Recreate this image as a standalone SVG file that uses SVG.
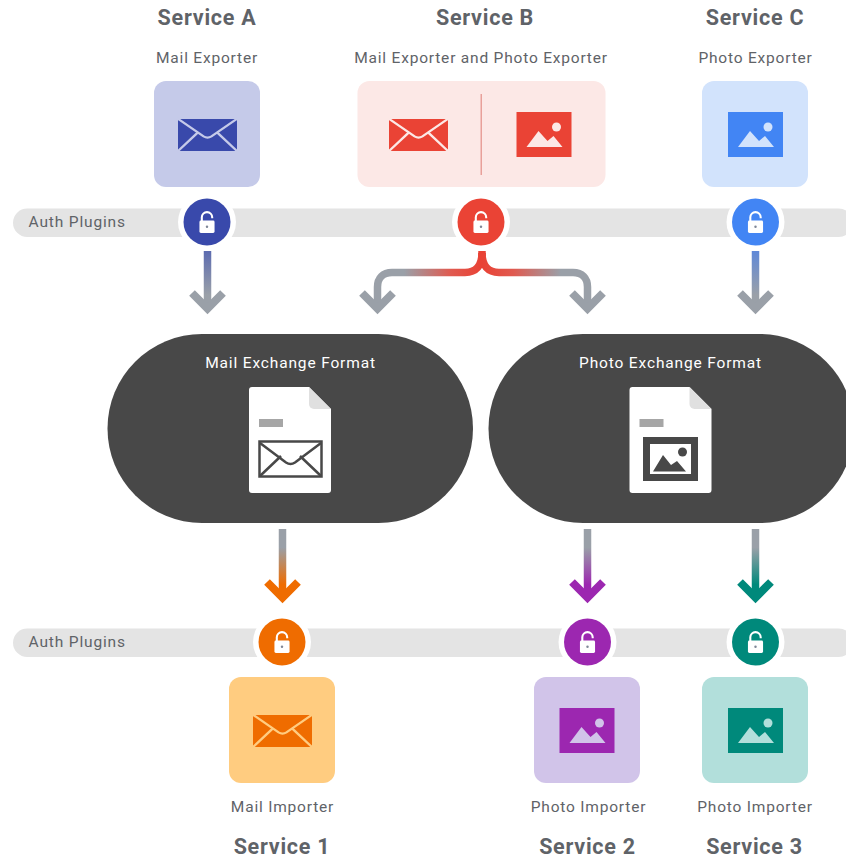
<svg xmlns="http://www.w3.org/2000/svg" width="846" height="859" viewBox="0 0 846 859">
<style>
text{font-family:Roboto,"Liberation Sans",sans-serif;text-anchor:middle}
.t{font-size:21.5px;font-weight:700;fill:#5f6368;letter-spacing:.75px}
.s{font-size:15.5px;fill:#5f6368;letter-spacing:.8px}
.w{font-size:15.5px;fill:#fff;letter-spacing:.85px}
.a{font-size:15.5px;fill:#5f6368;letter-spacing:.85px;text-anchor:start}
.bar{fill:#e4e4e4}
.ring{fill:#fff}
.ln{fill:none;stroke-width:7.5}
</style>
<defs>
<symbol id="mail" viewBox="0 0 60 34" preserveAspectRatio="none" overflow="visible">
<rect x="0" y="0" width="60" height="34" fill="currentColor"/>
<path d="M-1 -1 L26 18.500 Q30 21 34 18.500 L61 -1 M-1 35 L20 14.500 M61 35 L40 14.500" fill="none" stroke="var(--k)" stroke-width="2.400"/>
</symbol>
<symbol id="photo" viewBox="0 0 55 45" overflow="visible">
<rect width="55" height="45" fill="currentColor"/>
<circle cx="40" cy="15" r="4.500" fill="var(--k)"/>
<path d="M10 35 L22 19 L31 29 L37 24 L46 35Z" fill="var(--k)"/>
</symbol>
<symbol id="lock" viewBox="0 0 18 24" overflow="visible">
<path d="M3.500 11V6.500A5.500 5.500 0 0 1 14.500 6.500V7.500" fill="none" stroke="#fff" stroke-width="2.200"/>
<rect x="1" y="10" width="16" height="13" rx="1.500" fill="#fff"/>
<circle cx="9" cy="16.500" r="1.300" fill="#7f8797"/>
</symbol>
<linearGradient id="gA" gradientUnits="userSpaceOnUse" x1="0" y1="251" x2="0" y2="300"><stop offset="0" stop-color="#5c6bb0"/><stop offset=".9" stop-color="#9aa0a8"/></linearGradient>
<linearGradient id="gC" gradientUnits="userSpaceOnUse" x1="0" y1="251" x2="0" y2="300"><stop offset="0" stop-color="#5f88d8"/><stop offset=".9" stop-color="#9aa0a8"/></linearGradient>
<linearGradient id="gL" gradientUnits="userSpaceOnUse" x1="482" y1="0" x2="378" y2="0"><stop offset="0" stop-color="#e94235"/><stop offset=".3" stop-color="#e05a50"/><stop offset=".75" stop-color="#9aa0a8"/></linearGradient>
<linearGradient id="gR" gradientUnits="userSpaceOnUse" x1="482" y1="0" x2="587" y2="0"><stop offset="0" stop-color="#e94235"/><stop offset=".3" stop-color="#e05a50"/><stop offset=".75" stop-color="#9aa0a8"/></linearGradient>
<linearGradient id="g1" gradientUnits="userSpaceOnUse" x1="0" y1="529" x2="0" y2="603"><stop offset="0" stop-color="#9aa0a8"/><stop offset=".25" stop-color="#9aa0a8"/><stop offset=".75" stop-color="#ef6c00"/></linearGradient>
<linearGradient id="g2" gradientUnits="userSpaceOnUse" x1="0" y1="529" x2="0" y2="603"><stop offset="0" stop-color="#9aa0a8"/><stop offset=".25" stop-color="#9aa0a8"/><stop offset=".75" stop-color="#9c27b0"/></linearGradient>
<linearGradient id="g3" gradientUnits="userSpaceOnUse" x1="0" y1="529" x2="0" y2="603"><stop offset="0" stop-color="#9aa0a8"/><stop offset=".25" stop-color="#9aa0a8"/><stop offset=".75" stop-color="#00897b"/></linearGradient>
</defs>

<g id="auth-top"><rect class="bar" x="13" y="208.500" width="840" height="28.500" rx="14.250"/><text class="a" x="28.500" y="227">Auth Plugins</text></g>
<g id="auth-bottom"><rect class="bar" x="13" y="628.500" width="840" height="28.500" rx="14.250"/><text class="a" x="28.500" y="647">Auth Plugins</text></g>

<g id="connectors">
<path class="ln" stroke="url(#gA)" d="M207.500 251V308"/>
<path d="M192 293L207.500 308.500L223 293" fill="none" stroke="#9aa0a8" stroke-width="8"/>
<path class="ln" stroke="url(#gC)" d="M755.500 251V308"/>
<path d="M740 293L755.500 308.500L771 293" fill="none" stroke="#9aa0a8" stroke-width="8"/>
<path class="ln" stroke="#e94235" d="M482 251V256"/>
<path class="ln" stroke="url(#gL)" d="M482 253C482 266 476 272.500 465 272.500H392C383 272.500 377.500 278 377.500 287V308"/>
<path class="ln" stroke="url(#gR)" d="M482 253C482 266 488 272.500 499 272.500H573C582 272.500 587.500 278 587.500 287V308"/>
<path d="M362 293L377.500 308.500L393 293" fill="none" stroke="#9aa0a8" stroke-width="8"/>
<path d="M572 293L587.500 308.500L603 293" fill="none" stroke="#9aa0a8" stroke-width="8"/>
<path class="ln" stroke="url(#g1)" d="M282.500 529V597"/>
<path d="M267 582L282.500 597.500L298 582" fill="none" stroke="#ef6c00" stroke-width="8"/>
<path class="ln" stroke="url(#g2)" d="M587.500 529V597"/>
<path d="M572 582L587.500 597.500L603 582" fill="none" stroke="#9c27b0" stroke-width="8"/>
<path class="ln" stroke="url(#g3)" d="M755.500 529V597"/>
<path d="M740 582L755.500 597.500L771 582" fill="none" stroke="#00897b" stroke-width="8"/>
</g>

<g id="service-a">
<text class="t" x="207" y="25">Service A</text><text class="s" x="207" y="63">Mail Exporter</text>
<rect x="154" y="81" width="106" height="106" rx="12" fill="#c5cae9"/>
<use href="#mail" x="178" y="119" width="59" height="32" style="color:#3949ab;--k:#c5cae9"/>
</g>
<g id="service-b">
<text class="t" x="485" y="25">Service B</text><text class="s" x="481" y="63">Mail Exporter and Photo Exporter</text>
<rect x="357.500" y="81" width="248" height="106" rx="12" fill="#fce8e6"/>
<rect x="480.500" y="94" width="1.500" height="81" fill="#e8a09a"/>
<use href="#mail" x="389" y="119" width="59" height="32" style="color:#ea4335;--k:#fce8e6"/>
<use href="#photo" x="516.500" y="112" width="55" height="45" style="color:#ea4335;--k:#fce8e6"/>
</g>
<g id="service-c">
<text class="t" x="755" y="25">Service C</text><text class="s" x="755.500" y="63">Photo Exporter</text>
<rect x="702" y="81" width="106" height="106" rx="12" fill="#d2e3fc"/>
<use href="#photo" x="728" y="112" width="55" height="45" style="color:#4285f4;--k:#d2e3fc"/>
</g>

<g id="lock-a"><circle class="ring" cx="207" cy="222" r="29"/><circle cx="207" cy="222" r="23.500" fill="#3949ab"/><use href="#lock" x="198.500" y="211" width="17" height="23"/></g>
<g id="lock-b"><circle class="ring" cx="481" cy="222" r="29"/><circle cx="481" cy="222" r="23.500" fill="#ea4335"/><use href="#lock" x="472.500" y="211" width="17" height="23"/></g>
<g id="lock-c"><circle class="ring" cx="755.500" cy="222" r="29"/><circle cx="755.500" cy="222" r="23.500" fill="#4285f4"/><use href="#lock" x="747" y="211" width="17" height="23"/></g>

<g id="mail-format">
<rect x="107.500" y="334" width="365.500" height="189" rx="94.500" fill="#484848"/>
<text class="w" x="290.500" y="368">Mail Exchange Format</text>
<path d="M252 387H309L331 409V490a3 3 0 0 1-3 3H252a3 3 0 0 1-3-3V390a3 3 0 0 1 3-3Z" fill="#fff"/>
<path d="M309 387L331 409H314a5 5 0 0 1-5-5Z" fill="#e0e0e0"/>
<rect x="259" y="419" width="24" height="8" fill="#a6a6a6"/>
<rect x="259.500" y="441.500" width="62" height="35" fill="none" stroke="#484848" stroke-width="2.500"/>
<path d="M260 443L286 462.500Q290.500 465.500 295 462.500L321 443M260 476L281 456M321 476L300 456" fill="none" stroke="#484848" stroke-width="2.500"/>
</g>
<g id="photo-format">
<rect x="488.500" y="334" width="365.500" height="189" rx="94.500" fill="#484848"/>
<text class="w" x="670.500" y="368">Photo Exchange Format</text>
<path d="M632.500 387H689.500L711.500 409V490a3 3 0 0 1-3 3H632.500a3 3 0 0 1-3-3V390a3 3 0 0 1 3-3Z" fill="#fff"/>
<path d="M689.500 387L711.500 409H694.500a5 5 0 0 1-5-5Z" fill="#e0e0e0"/>
<rect x="639.500" y="419" width="24" height="8" fill="#a6a6a6"/>
<rect x="643" y="437" width="55" height="44" fill="#484848"/>
<rect x="650" y="444" width="41" height="30" fill="#fff"/>
<circle cx="682.500" cy="452" r="4.500" fill="#484848"/>
<path d="M653 471.500L663 455L671 465L677 461L686 471.500Z" fill="#484848"/>
</g>

<g id="lock-1"><circle class="ring" cx="282" cy="642" r="29"/><circle cx="282" cy="642" r="23.500" fill="#ef6c00"/><use href="#lock" x="273.500" y="631" width="17" height="23"/></g>
<g id="lock-2"><circle class="ring" cx="587.500" cy="642" r="29"/><circle cx="587.500" cy="642" r="23.500" fill="#9c27b0"/><use href="#lock" x="579" y="631" width="17" height="23"/></g>
<g id="lock-3"><circle class="ring" cx="755.500" cy="642" r="29"/><circle cx="755.500" cy="642" r="23.500" fill="#00897b"/><use href="#lock" x="747" y="631" width="17" height="23"/></g>

<g id="service-1">
<rect x="229" y="677" width="106" height="106" rx="12" fill="#ffcc80"/>
<use href="#mail" x="253" y="715" width="59" height="32" style="color:#ef6c00;--k:#ffcc80"/>
<text class="s" x="282.500" y="812">Mail Importer</text><text class="t" x="282" y="854">Service 1</text>
</g>
<g id="service-2">
<rect x="534" y="677" width="106" height="106" rx="12" fill="#d1c4e9"/>
<use href="#photo" x="559.500" y="708" width="55" height="45" style="color:#9c27b0;--k:#d1c4e9"/>
<text class="s" x="588.500" y="812">Photo Importer</text><text class="t" x="587.500" y="854">Service 2</text>
</g>
<g id="service-3">
<rect x="702" y="677" width="106" height="106" rx="12" fill="#b2dfdb"/>
<use href="#photo" x="728" y="708" width="55" height="45" style="color:#00897b;--k:#b2dfdb"/>
<text class="s" x="755" y="812">Photo Importer</text><text class="t" x="754.500" y="854">Service 3</text>
</g>
</svg>
